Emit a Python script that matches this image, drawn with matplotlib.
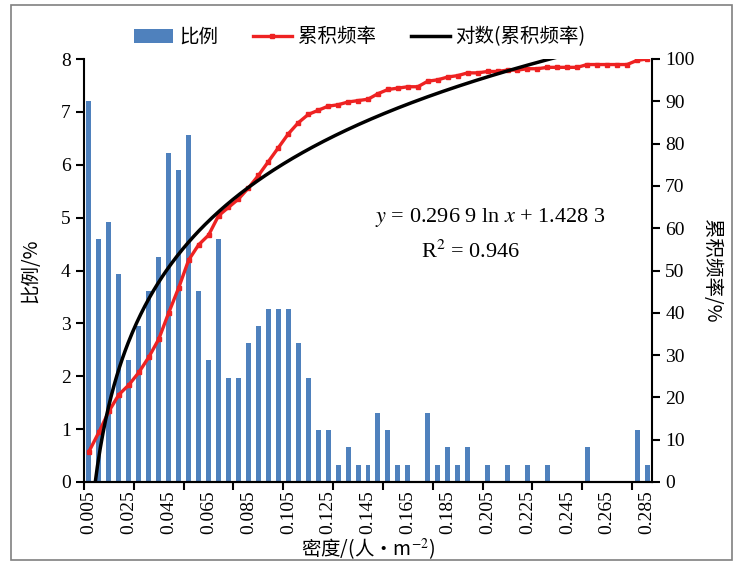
import numpy as np
import matplotlib.pyplot as plt
from matplotlib.patches import Rectangle

plt.rcParams['font.family'] = ['Liberation Serif', 'Noto Sans CJK SC']
plt.rcParams['mathtext.fontset'] = 'stix'

# 密度分组 (0.005 .. 0.285)
density = [round(0.005 * (i + 1), 3) for i in range(57)]

# 比例 (%)
ratio = [7.21, 4.59, 4.92, 3.93, 2.30, 2.95, 3.61, 4.26, 6.23, 5.90,
         6.56, 3.61, 2.30, 4.59, 1.97, 1.97, 2.62, 2.95, 3.28, 3.28,
         3.28, 2.62, 1.97, 0.98, 0.98, 0.33, 0.66, 0.33, 0.33, 1.31,
         0.98, 0.33, 0.33, 0.00, 1.31, 0.33, 0.66, 0.33, 0.66, 0.00,
         0.33, 0.00, 0.33, 0.00, 0.33, 0.00, 0.33, 0.00, 0.00, 0.00,
         0.66, 0.00, 0.00, 0.00, 0.00, 0.98, 0.33]

# 累积频率 (%)
cum_freq = [7.21, 11.80, 16.72, 20.66, 22.95, 25.90, 29.51, 33.77, 40.00, 45.90,
            52.46, 56.07, 58.36, 62.95, 64.92, 66.89, 69.51, 72.46, 75.74, 79.02,
            82.30, 84.92, 86.89, 87.87, 88.85, 89.18, 89.84, 90.16, 90.49, 91.80,
            92.79, 93.11, 93.44, 93.44, 94.75, 95.08, 95.74, 96.07, 96.72, 96.72,
            97.05, 97.05, 97.38, 97.38, 97.70, 97.70, 98.03, 98.03, 98.03, 98.03,
            98.69, 98.69, 98.69, 98.69, 98.69, 99.67, 100.0]

# 对数趋势线系数
coef_a = 0.2969
coef_b = 1.4283

pos = np.arange(len(density))
cjk = ['Noto Sans CJK SC', 'DejaVu Sans']

fig = plt.figure(figsize=(7.39, 5.63), dpi=100)
fig.patches.append(Rectangle((11 / 739, 3 / 563), 721 / 739, 555 / 563,
                             transform=fig.transFigure, fill=False,
                             edgecolor='#808080', linewidth=1.2))

ax = fig.add_axes([84 / 739, 1 - 482 / 563, 568 / 739, 423 / 563])
ax2 = ax.twinx()

b = ax.bar(pos, ratio, width=0.5, color='#4F81BD', label='比例', zorder=2)

l1, = ax2.plot(pos, cum_freq, color='#EE2222', linewidth=2.4, marker='s',
               markersize=3.2, label='累积频率', zorder=3)

xs = np.linspace(0.005, 0.285, 400)
ys = (coef_a * np.log(xs) + coef_b) * 100
l2, = ax2.plot((xs - 0.005) / 0.005, ys, color='black', linewidth=2.5,
               label='对数(累积频率)', zorder=4)

ax.set_xlim(-0.5, len(density) - 0.5)
ax.set_ylim(0, 8)
ax2.set_ylim(0, 100)
ax.set_yticks(range(0, 9))
ax2.set_yticks(range(0, 101, 10))

ax.set_xticks(pos[::4])
ax.set_xticklabels([f'{d:.3f}' for d in density[::4]], rotation=90)
ax.set_xticks(np.arange(-0.5, len(density), 5), minor=True)
ax.tick_params(axis='x', which='major', length=0, pad=6)
ax.tick_params(axis='x', which='minor', length=6, width=1.5, direction='out')

for a in (ax, ax2):
    a.spines['top'].set_visible(False)
    for s in ('left', 'right', 'bottom'):
        a.spines[s].set_linewidth(1.5)
    a.tick_params(axis='y', length=6, width=1.5, labelsize=14)
ax.tick_params(axis='x', labelsize=14)
ax2.spines['left'].set_visible(False)
ax.spines['right'].set_visible(False)

ax.set_xlabel('密度/(人•m$^{-2}$)', fontsize=14, labelpad=2, family=cjk)
ax.set_ylabel('比例/%', fontsize=14, family=cjk, labelpad=14)
ax2.set_ylabel('累积频率/%', fontsize=14, rotation=-90, labelpad=20, family=cjk)

ax2.text(0.715, 0.626, '$y$ = 0.296 9 ln $x$ + 1.428 3', transform=ax.transAxes,
         fontsize=16, ha='center', va='center')
ax2.text(0.68, 0.544, 'R$^2$ = 0.946', transform=ax.transAxes,
         fontsize=16, ha='center', va='center')

fig.legend(handles=[b, l1, l2], loc='center', bbox_to_anchor=(0.487, 1 - 37 / 563),
           ncol=3, frameon=False, handlelength=2.0, columnspacing=1.8,
           handletextpad=0.3, prop={'family': cjk, 'size': 14})

fig.savefig('out.png', dpi=100)
